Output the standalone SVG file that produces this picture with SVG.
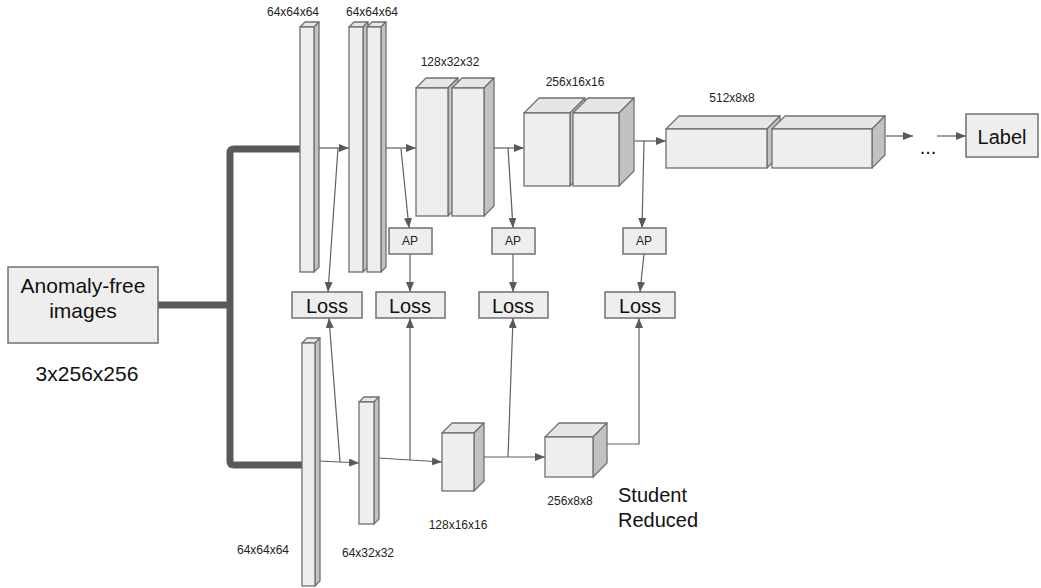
<svg xmlns="http://www.w3.org/2000/svg" width="1041" height="588" viewBox="0 0 1041 588">
<style>
.f{fill:#eeeeee;stroke:#707070;stroke-width:1.3}
.s{fill:#c2c2c2;stroke:#707070;stroke-width:1.3;stroke-linejoin:round}
.t{fill:#e6e6e6;stroke:#707070;stroke-width:1.3;stroke-linejoin:round}
.box{fill:#eeeeee;stroke:#707070;stroke-width:1.5}
.c{fill:none;stroke:#606060;stroke-width:1.2}
.a{marker-end:url(#ah)}
.sm{font-family:"Liberation Sans",Arial,sans-serif;font-size:12px;fill:#222;text-anchor:middle}
.lg{font-family:"Liberation Sans",Arial,sans-serif;font-size:20px;fill:#111;text-anchor:middle}
.in{font-size:21px}
</style>
<defs>
<marker id="ah" markerUnits="userSpaceOnUse" markerWidth="11" markerHeight="8" refX="10" refY="4" orient="auto">
<path d="M0,0 L10,4 L0,8 z" fill="#595959"/>
</marker>
</defs>

<g id="connectors">
<path d="M158,305 H230 M300,149 H234 Q230,149 230,153 V461 Q230,465 234,465 H302" fill="none" stroke="#595959" stroke-width="7"/>
<path class="c a" d="M319,148 H349"/>
<path class="c a" d="M386,148 H416"/>
<path class="c a" d="M494,148 H524"/>
<path class="c a" d="M635,141 H666"/>
<path class="c a" d="M886,136 H913"/>
<path class="c a" d="M937,136 H966"/>
<path class="c a" d="M338,148 L328,292"/>
<path class="c a" d="M401,149 L409,228"/>
<path class="c a" d="M508,148 L513,228"/>
<path class="c a" d="M644,141 L642,228"/>
<path class="c a" d="M410,254 V292"/>
<path class="c a" d="M513,254 V292"/>
<path class="c a" d="M644,254 L640,292"/>
<path class="c a" d="M319,461 L359,463"/>
<path class="c a" d="M378,458 L442,462"/>
<path class="c a" d="M484,457 L545,457"/>
<path class="c a" d="M340,462 L329,318"/>
<path class="c a" d="M410,460 V318"/>
<path class="c a" d="M508,457 L513,318"/>
<path class="c a" d="M607,444 H639 V318"/>
</g>

<g id="input">
<rect class="box" x="8" y="267" width="150" height="76"/>
<text class="lg in" x="83" y="293">Anomaly-free</text>
<text class="lg in" x="83" y="318">images</text>
<text class="lg in" x="87" y="381">3x256x256</text>
</g>

<g id="t1">
<polygon class="t" points="300,27 305,22 319,22 314,27"/>
<polygon class="s" points="314,27 319,22 319,267 314,272"/>
<rect class="f" x="300" y="27" width="14" height="245"/>
<text class="sm" x="293" y="16">64x64x64</text>
</g>
<g id="t2">
<polygon class="t" points="349,27 354,22 368,22 363,27"/>
<polygon class="s" points="363,27 368,22 368,267 363,272"/>
<rect class="f" x="349" y="27" width="14" height="245"/>
<polygon class="t" points="367,27 372,22 386,22 381,27"/>
<polygon class="s" points="381,27 386,22 386,267 381,272"/>
<rect class="f" x="367" y="27" width="14" height="245"/>
<text class="sm" x="372" y="16">64x64x64</text>
</g>
<g id="t3">
<polygon class="t" points="416,88 426,78 458,78 448,88"/>
<polygon class="s" points="448,88 458,78 458,206 448,216"/>
<rect class="f" x="416" y="88" width="32" height="128"/>
<polygon class="t" points="452,88 462,78 494,78 484,88"/>
<polygon class="s" points="484,88 494,78 494,206 484,216"/>
<rect class="f" x="452" y="88" width="32" height="128"/>
<text class="sm" x="450" y="66">128x32x32</text>
</g>
<g id="t4">
<polygon class="t" points="524,113 539,98 585,98 570,113"/>
<polygon class="s" points="570,113 585,98 585,171 570,186"/>
<rect class="f" x="524" y="113" width="46" height="73"/>
<polygon class="t" points="573,113 588,98 634,98 619,113"/>
<polygon class="s" points="619,113 634,98 634,171 619,186"/>
<rect class="f" x="573" y="113" width="46" height="73"/>
<text class="sm" x="575" y="86">256x16x16</text>
</g>
<g id="t5">
<polygon class="t" points="666,129 679,116 780,116 767,129"/>
<polygon class="s" points="767,129 780,116 780,155 767,168"/>
<rect class="f" x="666" y="129" width="101" height="39"/>
<polygon class="t" points="772,129 785,116 885,116 872,129"/>
<polygon class="s" points="872,129 885,116 885,155 872,168"/>
<rect class="f" x="772" y="129" width="100" height="39"/>
<text class="sm" x="732" y="102">512x8x8</text>
</g>
<g id="dots">
<text class="lg" x="928" y="154">...</text>
</g>
<g id="label">
<rect class="box" x="966" y="114" width="72" height="43"/>
<text class="lg" x="1002" y="144">Label</text>
</g>

<g id="ap1"><rect class="box" x="389" y="228" width="43" height="26"/><text class="sm" x="410" y="245">AP</text></g>
<g id="ap2"><rect class="box" x="492" y="228" width="43" height="26"/><text class="sm" x="513" y="245">AP</text></g>
<g id="ap3"><rect class="box" x="623" y="228" width="43" height="26"/><text class="sm" x="644" y="245">AP</text></g>

<g id="loss1"><rect class="box" x="292" y="292" width="70" height="26"/><text class="lg" x="327" y="313">Loss</text></g>
<g id="loss2"><rect class="box" x="376" y="292" width="69" height="26"/><text class="lg" x="410" y="313">Loss</text></g>
<g id="loss3"><rect class="box" x="479" y="292" width="69" height="26"/><text class="lg" x="513" y="313">Loss</text></g>
<g id="loss4"><rect class="box" x="605" y="292" width="70" height="26"/><text class="lg" x="640" y="313">Loss</text></g>

<g id="s1">
<polygon class="t" points="302,343 307,338 320,338 315,343"/>
<polygon class="s" points="315,343 320,338 320,581 315,586"/>
<rect class="f" x="302" y="343" width="13" height="243"/>
<text class="sm" x="263" y="554">64x64x64</text>
</g>
<g id="s2">
<polygon class="t" points="359,402 364,397 379,397 374,402"/>
<polygon class="s" points="374,402 379,397 379,519 374,524"/>
<rect class="f" x="359" y="402" width="15" height="122"/>
<text class="sm" x="368" y="557">64x32x32</text>
</g>
<g id="s3">
<polygon class="t" points="442,433 452,423 484,423 474,433"/>
<polygon class="s" points="474,433 484,423 484,481 474,491"/>
<rect class="f" x="442" y="433" width="32" height="58"/>
<text class="sm" x="458" y="529">128x16x16</text>
</g>
<g id="s4">
<polygon class="t" points="545,437 559,423 607,423 593,437"/>
<polygon class="s" points="593,437 607,423 607,463 593,477"/>
<rect class="f" x="545" y="437" width="48" height="40"/>
<text class="sm" x="570" y="505">256x8x8</text>
</g>
<g id="student-label">
<text class="lg" x="618" y="502" style="text-anchor:start">Student</text>
<text class="lg" x="618" y="527" style="text-anchor:start">Reduced</text>
</g>
</svg>
